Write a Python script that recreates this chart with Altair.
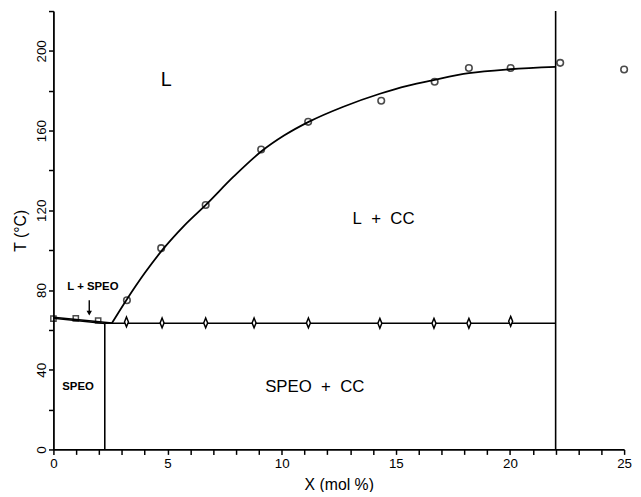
import altair as alt
import pandas as pd

# Liquidus (fitted) curve
curve_x = [2.57, 3.2, 4.0, 4.8, 5.7, 6.7, 7.9, 9.1, 10.1, 11.2, 12.7, 14.3, 15.5, 16.7, 18.2, 20.0, 22.0]
curve_t = [63.5, 75, 88.5, 100.5, 112, 123, 137, 149.5, 157.5, 164.5, 172, 178.5, 182.5, 185.5, 188.8, 190.8, 192]

# Open circles (liquidus data)
circ_x = [3.22, 4.72, 6.67, 9.1, 11.16, 14.36, 16.7, 18.2, 20.03, 22.2, 25.0]
circ_t = [74.9, 101, 122.7, 150.5, 164.4, 175, 184.5, 191.4, 191.4, 194, 190.7]

# Open squares (SPEO side)
sq_x = [0.0, 0.98, 1.96]
sq_t = [65.7, 65.8, 64.7]

# Diamonds (eutectic)
dia_x = [3.2, 4.76, 6.67, 8.79, 11.17, 14.3, 16.67, 18.2, 20.03]
dia_t = [64.0, 63.5, 63.5, 63.5, 63.5, 63.3, 63.3, 63.3, 64.3]

# Phase boundary segments
seg_x = [0.0, 0.0, 2.25, 2.25, 22.0]
seg_x2 = [2.57, 2.25, 22.0, 2.25, 22.0]
seg_t = [66.3, 65.8, 63.3, 0.0, 0.0]
seg_t2 = [63.5, 63.2, 63.3, 63.3, 220.0]

# Region labels
lab_text = ["L", "L\u00a0\u00a0+\u00a0\u00a0CC", "SPEO\u00a0\u00a0+\u00a0\u00a0CC"]
lab_x = [4.94, 14.46, 11.45]
lab_t = [185.6, 115.8, 31.4]
lab_size = [20, 17, 17]

small_text = ["L + SPEO", "SPEO"]
small_x = [1.73, 1.08]
small_t = [81.4, 31.2]

arrow_x = [1.57]
arrow_t = [74.9]
arrow_t2 = [69.5]
arrow_head_t = [68.4]

# Axis ticks
x_ticks = list(range(0, 26))
y_ticks = list(range(0, 221, 20))

FONT = "Liberation Sans"

xs = alt.Scale(domain=[0, 25], nice=False, zero=False)
ys = alt.Scale(domain=[0, 220], nice=False)

xaxis = alt.Axis(
    values=x_ticks,
    labelExpr="datum.value % 5 == 0 ? datum.label : ''",
    title="X (mol %)",
    grid=False,
    tickSize=5,
    labelPadding=2,
    labelFontSize=13.5,
    titleFontSize=16,
    titleFontWeight="normal",
    titlePadding=7,
    labelFlush=False,
    labelOverlap=False,
    labelSeparation=0,
)
yaxis = alt.Axis(
    values=y_ticks,
    labelExpr="datum.value % 40 == 0 ? datum.label : ''",
    title="T (°C)",
    grid=False,
    tickSize=5,
    labelAngle=270,
    labelAlign="center",
    labelBaseline="alphabetic",
    labelPadding=3,
    labelFontSize=13.5,
    titleFontSize=16,
    titleFontWeight="normal",
    titlePadding=6,
    labelFlush=False,
    labelOverlap=False,
    labelSeparation=0,
)

curve_df = pd.DataFrame({"x": curve_x, "t": curve_t})
circ_df = pd.DataFrame({"x": circ_x, "t": circ_t})
sq_df = pd.DataFrame({"x": sq_x, "t": sq_t})
dia_df = pd.DataFrame({"x": dia_x, "t": dia_t})
seg_df = pd.DataFrame({"x": seg_x, "x2": seg_x2, "t": seg_t, "t2": seg_t2})
lab_df = pd.DataFrame({"text": lab_text, "x": lab_x, "t": lab_t, "size": lab_size})
small_df = pd.DataFrame({"text": small_text, "x": small_x, "t": small_t})
arrow_df = pd.DataFrame({"x": arrow_x, "t": arrow_t, "t2": arrow_t2, "h": arrow_head_t})

base_axes = alt.Chart(seg_df).mark_rule(color="black", strokeWidth=1.6).encode(
    x=alt.X("x:Q", scale=xs, axis=xaxis),
    y=alt.Y("t:Q", scale=ys, axis=yaxis),
    x2="x2:Q",
    y2="t2:Q",
)

curve = alt.Chart(curve_df).mark_line(color="black", strokeWidth=1.8, interpolate="monotone").encode(
    x=alt.X("x:Q", scale=xs, axis=xaxis), y=alt.Y("t:Q", scale=ys, axis=yaxis)
)

circles = alt.Chart(circ_df).mark_point(shape="circle", filled=False, color="black", size=44, strokeWidth=1.6).encode(
    x=alt.X("x:Q", scale=xs, axis=xaxis), y=alt.Y("t:Q", scale=ys, axis=yaxis)
)

squares = alt.Chart(sq_df).mark_point(shape="square", filled=False, color="black", size=28, strokeWidth=1.5).encode(
    x=alt.X("x:Q", scale=xs, axis=xaxis), y=alt.Y("t:Q", scale=ys, axis=yaxis)
)

diamonds = alt.Chart(dia_df).mark_point(
    shape="M0,-1L0.4,0L0,1L-0.4,0Z", filled=True, fill="white", stroke="black", size=100, strokeWidth=1.5, opacity=1
).encode(x=alt.X("x:Q", scale=xs, axis=xaxis), y=alt.Y("t:Q", scale=ys, axis=yaxis))

labels = alt.Chart(lab_df).mark_text(font=FONT, color="black", align="center", baseline="middle").encode(
    x=alt.X("x:Q", scale=xs, axis=xaxis), y=alt.Y("t:Q", scale=ys, axis=yaxis), text="text:N",
    size=alt.Size("size:Q", scale=None, legend=None),
)

small_labels = alt.Chart(small_df).mark_text(
    font=FONT, color="black", align="center", baseline="middle", fontSize=11.5, fontWeight="bold"
).encode(x=alt.X("x:Q", scale=xs, axis=xaxis), y=alt.Y("t:Q", scale=ys, axis=yaxis), text="text:N")

arrow_line = alt.Chart(arrow_df).mark_rule(color="black", strokeWidth=1.4).encode(
    x=alt.X("x:Q", scale=xs, axis=xaxis), y=alt.Y("t:Q", scale=ys, axis=yaxis), y2="t2:Q"
)
arrow_head = alt.Chart(arrow_df).mark_point(shape="triangle-down", filled=True, color="black", size=30, opacity=1).encode(
    x=alt.X("x:Q", scale=xs, axis=xaxis), y=alt.Y("h:Q", scale=ys, axis=yaxis)
)

chart = alt.layer(
    base_axes, curve, squares, circles, diamonds, labels, small_labels, arrow_line, arrow_head
).properties(
    width=578,
    height=444,
    autosize=alt.AutoSizeParams(type="none"),
    padding={"left": 46, "top": 0, "right": 9, "bottom": 40},
).configure_view(stroke=None).configure_axis(
    domainColor="black",
    domainWidth=1.8,
    tickColor="black",
    tickWidth=1.5,
    labelColor="black",
    titleColor="black",
    labelFont=FONT,
    titleFont=FONT,
    labelOverlap=False,
)

chart.save("out.html", embed_options={"renderer": "svg", "actions": False})
